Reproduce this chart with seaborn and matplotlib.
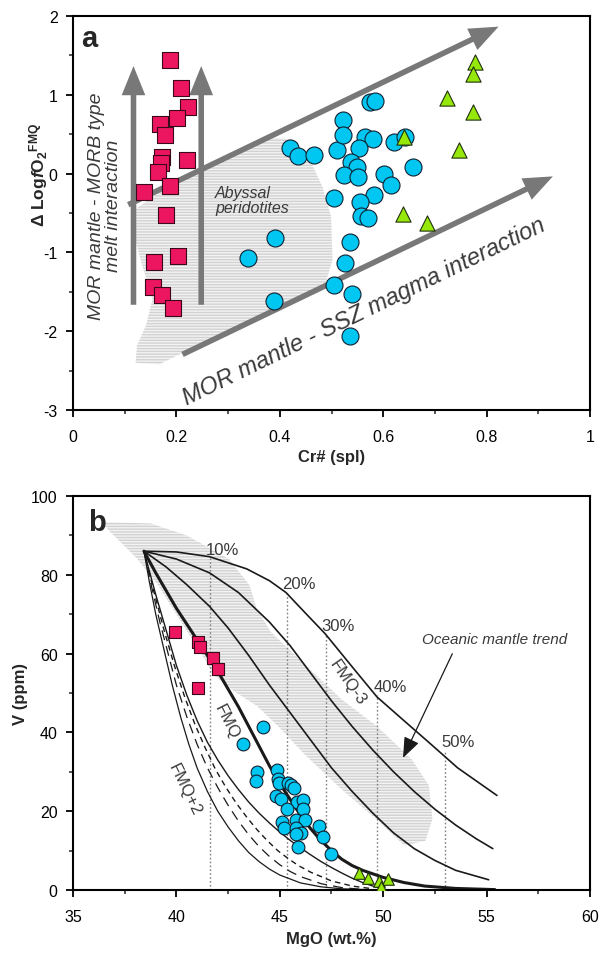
import numpy as np
import pandas as pd
import matplotlib
matplotlib.use("Agg")
import matplotlib.pyplot as plt
import seaborn as sns
from matplotlib.ticker import MultipleLocator, FuncFormatter

sns.set_style("ticks")
plt.rcParams['font.family'] = ['Liberation Sans', 'DejaVu Sans']
plt.rcParams['mathtext.fontset'] = 'custom'
plt.rcParams['mathtext.rm'] = 'Liberation Sans:bold'
plt.rcParams['mathtext.bf'] = 'Liberation Sans:bold'
plt.rcParams['mathtext.it'] = 'Liberation Sans:bold:italic'
plt.rcParams['hatch.linewidth'] = 1.0
plt.rcParams['axes.unicode_minus'] = False

# ---------------- Panel a data ----------------
sq_cr = [0.188, 0.208, 0.222, 0.201, 0.169, 0.178, 0.173, 0.171, 0.221, 0.165,
         0.187, 0.137, 0.180, 0.204, 0.157, 0.154, 0.172, 0.194]
sq_fo2 = [1.44, 1.09, 0.85, 0.71, 0.63, 0.49, 0.21, 0.14, 0.17, 0.02,
          -0.16, -0.23, -0.52, -1.05, -1.12, -1.44, -1.54, -1.70]

circ_cr = [0.420, 0.436, 0.466, 0.510, 0.522, 0.523, 0.574, 0.584, 0.565, 0.581,
           0.554, 0.621, 0.642, 0.537, 0.550, 0.524, 0.552, 0.602, 0.615, 0.657,
           0.583, 0.505, 0.555, 0.558, 0.571, 0.391, 0.338, 0.535, 0.526, 0.505,
           0.539, 0.389, 0.536]
circ_fo2 = [0.33, 0.22, 0.24, 0.30, 0.68, 0.49, 0.905, 0.925, 0.47, 0.44,
            0.33, 0.40, 0.46, 0.15, 0.09, -0.02, -0.04, 0.00, -0.15, 0.09,
            -0.27, -0.31, -0.36, -0.54, -0.56, -0.82, -1.07, -0.87, -1.14, -1.42,
            -1.53, -1.62, -2.06]

tri_cr = [0.778, 0.773, 0.724, 0.774, 0.640, 0.747, 0.639, 0.685]
tri_fo2 = [1.41, 1.27, 0.96, 0.78, 0.46, 0.30, -0.51, -0.63]

# abyssal peridotite field outline
aby_cr = [0.121, 0.167, 0.241, 0.348, 0.442, 0.489, 0.502, 0.499, 0.482, 0.455,
          0.415, 0.375, 0.308, 0.241, 0.174, 0.121, 0.117, 0.134, 0.154, 0.141, 0.124]
aby_fo2 = [-2.40, -2.42, -2.18, -1.85, -1.59, -1.38, -1.09, -0.54, -0.16, 0.22,
           0.44, 0.46, 0.27, 0.01, -0.20, -0.45, -0.75, -1.17, -1.59, -1.93, -2.18]

# ---------------- Panel b data ----------------
b_sq_mgo = [39.93, 41.03, 41.14, 41.75, 42.03, 41.06]
b_sq_v = [65.6, 62.9, 61.6, 58.9, 56.1, 51.2]

b_circ_mgo = [44.17, 43.21, 43.88, 43.83, 44.85, 44.93, 44.96, 45.41, 45.53, 45.69,
              44.82, 45.06, 45.85, 46.11, 46.11, 45.33, 45.09, 45.19, 45.78, 46.23,
              45.78, 46.03, 45.78, 46.88, 47.10, 45.89, 47.46]
b_circ_v = [41.3, 37.1, 29.9, 27.6, 30.5, 28.2, 27.2, 27.1, 26.6, 25.8,
            23.8, 23.1, 22.4, 22.9, 20.6, 20.6, 17.2, 15.7, 17.8, 17.7,
            15.7, 14.5, 14.2, 16.3, 13.4, 10.8, 9.1]

b_tri_mgo = [48.85, 49.25, 49.80, 50.25, 49.90]
b_tri_v = [4.4, 3.0, 2.2, 2.9, 0.8]

# melting model curves
curveA_mgo = [38.43, 40.0, 41.6, 43.4, 44.5, 45.3, 46.2, 47.2, 48.6, 49.7, 51.0, 52.2, 53.6, 55.5]
curveA_v = [86, 85.8, 84.6, 81.5, 78.5, 75.5, 70.5, 65.0, 56.0, 49.0, 43.0, 37.5, 31.0, 24.0]

curveB_mgo = [38.43, 40.0, 41.6, 43.0, 44.5, 45.5, 46.5, 47.5, 48.5, 49.5, 50.5, 51.5, 52.5, 53.5, 54.5, 55.3]
curveB_v = [86, 84.0, 80.5, 75.5, 68.0, 62.0, 55.0, 48.0, 41.5, 35.5, 30.0, 25.0, 20.5, 16.5, 13.0, 10.5]

curveC_mgo = [38.43, 39.5, 40.5, 41.6, 42.5, 43.5, 44.5, 45.5, 46.5, 47.5, 48.5, 49.5, 50.5, 51.5, 52.5, 53.5, 55.1]
curveC_v = [86, 82.0, 77.5, 72.0, 66.5, 59.5, 52.0, 45.0, 38.0, 31.0, 25.0, 19.5, 14.5, 10.5, 7.5, 5.0, 2.6]

fmq_mgo = [38.43, 39.0, 39.5, 40.0, 40.5, 41.0, 41.5, 42.0, 42.5, 43.0, 43.5, 44.0, 44.5,
           45.0, 45.5, 46.0, 46.5, 47.0, 47.5, 48.0, 48.5, 49.0, 50.0, 51.0, 52.0, 53.5, 55.4]
fmq_v = [86, 80.5, 76.0, 71.5, 67.5, 63.5, 59.5, 55.5, 51.0, 46.5, 41.5, 36.5, 31.5,
         27.0, 23.0, 19.0, 15.5, 12.5, 10.0, 7.8, 6.2, 5.0, 3.2, 1.9, 1.0, 0.4, 0.1]

curveD_mgo = [38.43, 39.0, 39.5, 40.0, 40.5, 41.0, 41.5, 42.0, 42.5, 43.0, 43.5, 44.0, 44.5,
              45.0, 45.5, 46.0, 46.5, 47.0, 47.5, 48.0, 48.5, 49.0, 49.5, 50.0]
curveD_v = [86, 75.0, 66.0, 57.0, 49.5, 43.0, 37.5, 33.0, 29.0, 25.5, 22.3, 19.5, 17.0,
            14.7, 12.6, 10.7, 8.9, 7.2, 5.7, 4.3, 3.0, 1.9, 1.0, 0.4]

curveE_mgo = [38.43, 38.8, 39.2, 39.6, 40.0, 40.5, 41.0, 41.5, 42.0, 42.5, 43.0, 43.5, 44.0,
              44.5, 45.0, 45.5, 46.0, 47.0, 48.0, 49.0]
curveE_v = [86, 77.0, 68.0, 60.0, 52.0, 44.0, 37.0, 31.0, 26.0, 21.5, 17.5, 14.0, 11.0,
            8.5, 6.4, 4.7, 3.4, 1.6, 0.6, 0.15]

curveF_mgo = [38.43, 38.9, 39.4, 39.9, 40.4, 40.9, 41.4, 41.9, 42.4, 42.9, 43.4, 43.9, 44.4,
              44.9, 45.4, 45.9, 46.5, 47.5, 48.5, 49.5]
curveF_v = [86, 76.0, 66.0, 57.0, 49.0, 42.0, 36.0, 30.5, 26.0, 22.0, 18.5, 15.3, 12.5,
            10.0, 8.0, 6.2, 4.5, 2.3, 1.0, 0.3]

fmq2_mgo = [38.43, 38.7, 39.0, 39.4, 39.8, 40.2, 40.6, 41.0, 41.5, 42.0, 42.5, 43.0, 43.5,
            44.0, 44.5, 45.0, 46.0, 47.0, 48.0, 49.5]
fmq2_v = [86, 78.0, 70.0, 61.0, 52.0, 44.0, 37.0, 31.0, 25.0, 20.0, 16.0, 12.5, 9.5,
          7.2, 5.3, 3.8, 1.8, 0.8, 0.3, 0.05]

melt_pct = ['10%', '20%', '30%', '40%', '50%']
melt_mgo = [41.62, 45.33, 47.22, 49.72, 53.0]
melt_top_v = [84.3, 75.5, 65.0, 49.5, 35.5]

# oceanic mantle trend field
ocean_mgo = [36.39, 38.78, 40.48, 42.52, 43.54, 43.88, 44.56, 46.26, 47.96, 49.66, 51.36, 52.21,
             52.38, 52.04, 51.02, 49.66, 47.96, 46.26, 44.90, 43.88, 42.86, 41.84, 41.16,
             40.14, 39.12, 38.10, 36.73]
ocean_v = [93.4, 93.0, 90.0, 84.1, 77.3, 71.4, 65.5, 57.0, 48.5, 41.7, 33.3, 26.5,
           18.0, 12.5, 11.3, 18.0, 25.7, 34.1, 41.7, 46.8, 50.2, 54.4, 60.4,
           68.8, 77.3, 84.1, 91.3]

pink = '#EC1560'
cyan = '#00C6F2'
lime = '#96E80A'
arrow_gray = '#787878'
txt_gray = '#3a3a3a'

fig = plt.figure(figsize=(6.12, 9.54), dpi=100)
axA = fig.add_axes([73 / 612, 1 - 411 / 954, 517 / 612, 394 / 954])
axB = fig.add_axes([73 / 612, 1 - 891 / 954, 517 / 612, 394 / 954])

for ax in (axA, axB):
    for s in ax.spines.values():
        s.set_linewidth(1.5)
        s.set_color('black')
    ax.tick_params(which='major', direction='out', length=5, width=1.3, labelsize=11.5,
                   colors='black', pad=6)
    ax.tick_params(which='minor', direction='out', length=3, width=1.1)
    ax.tick_params(axis='x', which='major', pad=9)

# ---------------- Panel a ----------------
axA.fill(aby_cr, aby_fo2, facecolor='#f3f3f3', edgecolor='none', zorder=0)
axA.fill(aby_cr, aby_fo2, facecolor='none', edgecolor='#d2d2d2', hatch='------', lw=0, zorder=0.5)

arr_kw = dict(arrowstyle='simple,head_length=1.05,head_width=0.85,tail_width=0.2',
              fc=arrow_gray, ec='none', mutation_scale=20)
axA.annotate('', xy=(0.117, 1.40), xytext=(0.117, -1.70), arrowprops=arr_kw, zorder=2)
axA.annotate('', xy=(0.248, 1.40), xytext=(0.248, -1.70), arrowprops=arr_kw, zorder=2)
axA.annotate('', xy=(0.828, 1.88), xytext=(0.102, -0.41), arrowprops=arr_kw, zorder=2)
axA.annotate('', xy=(0.933, -0.02), xytext=(0.207, -2.31), arrowprops=arr_kw, zorder=2)

dfa_sq = pd.DataFrame({'cr': sq_cr, 'fo2': sq_fo2})
dfa_ci = pd.DataFrame({'cr': circ_cr, 'fo2': circ_fo2})
dfa_tr = pd.DataFrame({'cr': tri_cr, 'fo2': tri_fo2})
sns.scatterplot(data=dfa_sq, x='cr', y='fo2', ax=axA, marker='s', s=140, color=pink,
                edgecolor='#3a0818', linewidth=0.8, zorder=3)
sns.scatterplot(data=dfa_ci, x='cr', y='fo2', ax=axA, marker='o', s=150, color=cyan,
                edgecolor='#102030', linewidth=0.8, zorder=3)
sns.scatterplot(data=dfa_tr, x='cr', y='fo2', ax=axA, marker='^', s=120, color=lime,
                edgecolor='#203010', linewidth=0.8, zorder=4)

axA.set_xlim(0, 1)
axA.set_ylim(-3, 2)
axA.xaxis.set_major_locator(MultipleLocator(0.2))
axA.xaxis.set_minor_locator(MultipleLocator(0.1))
axA.yaxis.set_major_locator(MultipleLocator(1))
axA.yaxis.set_minor_locator(MultipleLocator(0.5))
axA.xaxis.set_major_formatter(FuncFormatter(lambda v, p: f'{v:g}'))
axA.set_xlabel('Cr# (spl)', fontsize=12, fontweight='bold', labelpad=3)
axA.set_ylabel(r'$\Delta$ Log$\mathit{f}$O$_2$$^{\rm FMQ}$', fontsize=12.5, fontweight='bold')
axA.yaxis.set_label_coords(-0.045, 0.6)

axA.text(0.015, 1.72, 'a', fontsize=21, fontweight='bold', ha='left', va='center', zorder=6)
axA.text(0.062, -0.40, 'MOR mantle - MORB type\nmelt interaction', rotation=90,
         fontsize=14, style='italic', color=txt_gray, ha='center', va='center',
         multialignment='center', linespacing=1.05, zorder=5)
axA.text(0.275, -0.33, 'Abyssal\nperidotites', fontsize=11.5, style='italic', color=txt_gray,
         ha='left', va='center', linespacing=1.0, zorder=5)
axA.text(0.562, -1.74, 'MOR mantle - SSZ magma interaction', rotation=26,
         rotation_mode='anchor', fontsize=17, style='italic', color=txt_gray,
         ha='center', va='center', zorder=5)

# ---------------- Panel b ----------------
axB.fill(ocean_mgo, ocean_v, facecolor='#f3f3f3', edgecolor='none', zorder=0)
axB.fill(ocean_mgo, ocean_v, facecolor='none', edgecolor='#d2d2d2', hatch='------', lw=0, zorder=0.5)

for xm, top in zip(melt_mgo, melt_top_v):
    axB.plot([xm, xm], [0, top], color='#808080', lw=1.0, ls=(0, (1.2, 1.6)), zorder=1)

line_specs = [
    (curveA_mgo, curveA_v, 1.2, '-'),
    (curveB_mgo, curveB_v, 1.2, '-'),
    (curveC_mgo, curveC_v, 1.2, '-'),
    (fmq_mgo, fmq_v, 2.2, '-'),
    (curveD_mgo, curveD_v, 1.0, '-'),
    (curveF_mgo, curveF_v, 1.0, (0, (4, 3))),
    (curveE_mgo, curveE_v, 0.9, (0, (8, 5))),
    (fmq2_mgo, fmq2_v, 0.9, '-'),
]
for xs, ys, lw, ls in line_specs:
    dfl = pd.DataFrame({'mgo': xs, 'v': ys})
    sns.lineplot(data=dfl, x='mgo', y='v', ax=axB, color='#1a1a1a', lw=lw,
                 linestyle=ls, sort=False, estimator=None, zorder=2)

dfb_sq = pd.DataFrame({'mgo': b_sq_mgo, 'v': b_sq_v})
dfb_ci = pd.DataFrame({'mgo': b_circ_mgo, 'v': b_circ_v})
dfb_tr = pd.DataFrame({'mgo': b_tri_mgo, 'v': b_tri_v})
sns.scatterplot(data=dfb_sq, x='mgo', y='v', ax=axB, marker='s', s=75, color=pink,
                edgecolor='#3a0818', linewidth=0.8, zorder=3)
sns.scatterplot(data=dfb_ci, x='mgo', y='v', ax=axB, marker='o', s=85, color=cyan,
                edgecolor='#102030', linewidth=0.8, zorder=3)
sns.scatterplot(data=dfb_tr, x='mgo', y='v', ax=axB, marker='^', s=70, color=lime,
                edgecolor='#203010', linewidth=0.8, zorder=4)

for lab, xm, top in zip(melt_pct, melt_mgo, melt_top_v):
    axB.text(xm + 0.6, top + 2.2, lab, fontsize=12, color=txt_gray, ha='center', va='center', zorder=5)

axB.text(48.3, 52.8, 'FMQ-3', rotation=-55, fontsize=12, color=txt_gray, ha='center', va='center', zorder=5)
axB.text(42.45, 43.0, 'FMQ', rotation=-63, fontsize=12, color=txt_gray, ha='center', va='center', zorder=5)
axB.text(40.4, 25.7, 'FMQ+2', rotation=-64, fontsize=12, color=txt_gray, ha='center', va='center', zorder=5)
axB.text(55.4, 63.8, 'Oceanic mantle trend', fontsize=11, style='italic', color=txt_gray,
         ha='center', va='center', zorder=5)
axB.annotate('', xy=(50.9, 32.9), xytext=(53.4, 60.6),
             arrowprops=dict(arrowstyle='-|>,head_length=0.9,head_width=0.35', color='#1a1a1a',
                             lw=0.9, mutation_scale=14), zorder=5)
axB.text(35.75, 93.3, 'b', fontsize=21, fontweight='bold', ha='left', va='center', zorder=6)

axB.set_xlim(35, 60)
axB.set_ylim(0, 100)
axB.xaxis.set_major_locator(MultipleLocator(5))
axB.xaxis.set_minor_locator(MultipleLocator(2.5))
axB.yaxis.set_major_locator(MultipleLocator(20))
axB.yaxis.set_minor_locator(MultipleLocator(10))
axB.set_xlabel('MgO (wt.%)', fontsize=12, fontweight='bold', labelpad=5)
axB.set_ylabel('V (ppm)', fontsize=12, fontweight='bold', labelpad=2)

fig.savefig('out.png', dpi=100)
